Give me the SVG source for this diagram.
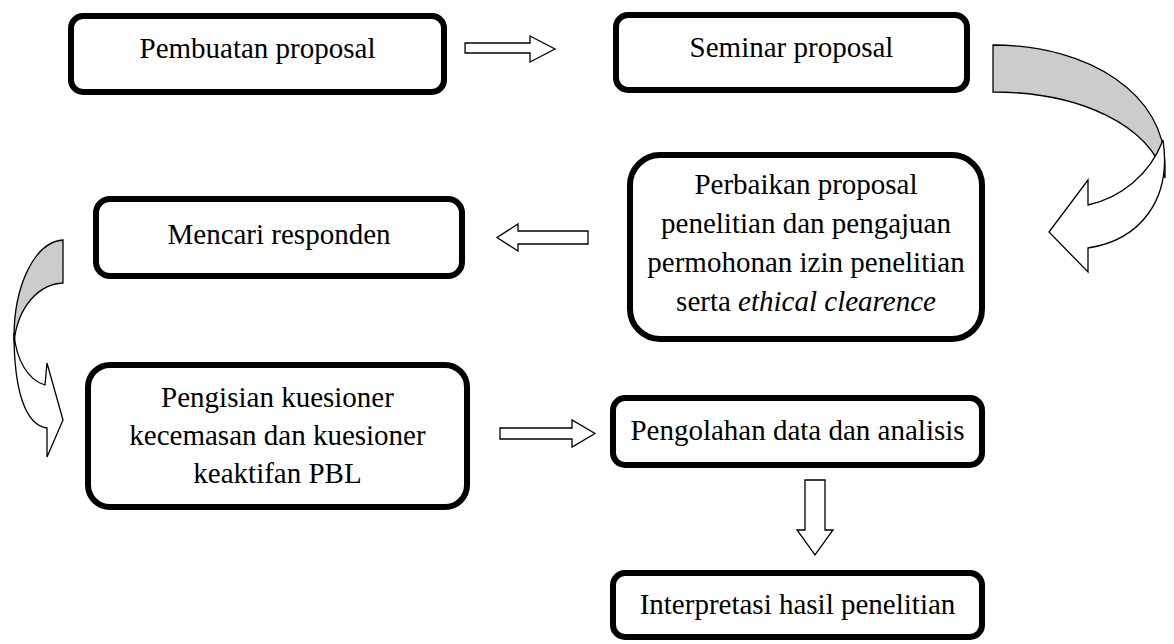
<svg xmlns="http://www.w3.org/2000/svg" width="1174" height="644" viewBox="0 0 1174 644">
<style>
.box{fill:#fff;stroke:#000;stroke-width:6}
.t{font-size:29px;fill:#000;text-anchor:middle}
.ar{fill:#fff;stroke:#000;stroke-width:1.3;stroke-linejoin:miter}
.back{fill:#cccccc;stroke:#000;stroke-width:1.3}
</style>
<rect width="1174" height="644" fill="#fff"/>
<g font-family="Liberation Serif, Times New Roman, DejaVu Serif, serif">
<g id="n1"><rect class="box" x="71" y="16" width="373" height="76" rx="12"/><text class="t" x="257.5" y="58">Pembuatan proposal</text></g>
<g id="n2"><rect class="box" x="616" y="15" width="351" height="75" rx="12"/><text class="t" x="791.5" y="57">Seminar proposal</text></g>
<g id="n3"><rect class="box" x="630" y="155" width="352" height="184" rx="30"/><text class="t" x="806" y="194">Perbaikan proposal</text><text class="t" x="806" y="233">penelitian dan pengajuan</text><text class="t" x="806" y="272">permohonan izin penelitian</text><text class="t" x="806" y="311">serta <tspan font-style="italic">ethical clearence</tspan></text></g>
<g id="n4"><rect class="box" x="96" y="199" width="366" height="77" rx="14"/><text class="t" x="279" y="244">Mencari responden</text></g>
<g id="n5"><rect class="box" x="88" y="365" width="379" height="142" rx="22"/><text class="t" x="277.5" y="407">Pengisian kuesioner</text><text class="t" x="277.5" y="445">kecemasan dan kuesioner</text><text class="t" x="277.5" y="483">keaktifan PBL</text></g>
<g id="n6"><rect class="box" x="613" y="398" width="369" height="67" rx="12"/><text class="t" x="797.5" y="440">Pengolahan data dan analisis</text></g>
<g id="n7"><rect class="box" x="613" y="573" width="369" height="64" rx="12"/><text class="t" x="797.5" y="614">Interpretasi hasil penelitian</text></g>
</g>
<g id="connectors">
<polygon class="ar" points="465,43 530,43 530,36 555,49 530,62 530,53 465,53"/>
<path class="back" d="M993,45 C1090,45 1165,95 1165,165 L1165,178 C1150,125 1080,92 993,92 Z"/>
<path class="ar" d="M1163,140 C1172,200 1140,240 1088,248 L1088,272 L1049,232 L1088,180 L1088,205 C1120,198 1150,175 1163,140 Z"/>
<polygon class="ar" points="588,231 518,231 518,224 497,237.5 518,251 518,244 588,244"/>
<path class="back" d="M63,240 C35,242 13,285 14,342 C18,305 40,284 63,283 Z"/>
<path class="ar" d="M14,333 C14,390 25,425 47,428 L47,457 L63,420 L47,363 L45,385 C28,380 16,360 14,333 Z"/>
<polygon class="ar" points="500,428 572,428 572,420 595,433.5 572,447 572,439 500,439"/>
<polygon class="ar" points="805,480 825,480 825,530 833,530 815,555 797,530 805,530"/>
</g>
</svg>
